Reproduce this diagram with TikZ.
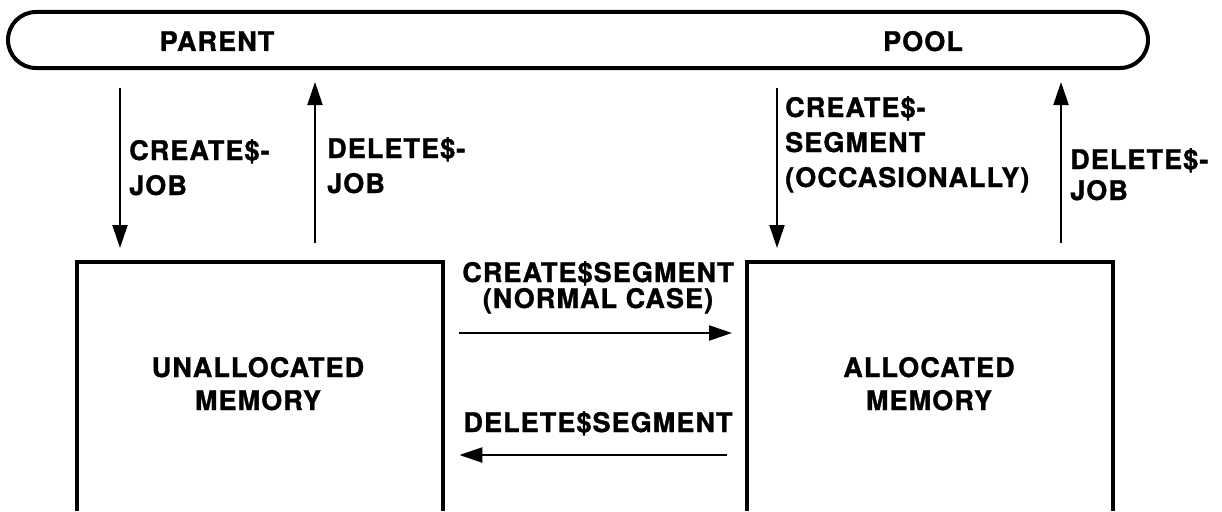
\documentclass[tikz,border=0pt]{standalone}
\usepackage{fontspec}
\setmainfont[LetterSpace=4, BoldFeatures={FakeBold=1.2}]{TeX Gyre Heros}
\usetikzlibrary{arrows.meta,shapes.misc}

\begin{document}
\begin{tikzpicture}[x=1pt,y=-1pt,
  txt/.style={font=\fontsize{27}{35}\selectfont\bfseries, inner sep=0pt},
  lbl/.style={txt, align=left, anchor=base west},
  ctr/.style={txt, align=center, anchor=base},
  wall/.style={line width=4pt, line join=miter},
  arr/.style={line width=2.2pt, -{Triangle[length=23pt,width=15pt]}},
  area/.style={minimum width=366pt, minimum height=249pt, inner sep=0pt, anchor=north west}]

\useasboundingbox (0,0) rectangle (1222,511);

% the shared pool, drawn as a long rounded bar
\node[rounded rectangle, draw, wall, minimum width=1140pt, minimum height=56pt,
      inner sep=0pt] (pool) at (578,40) {};
\node[ctr] (parent) at (217,51) {PARENT};
\node[ctr] (pooltxt) at (923,51) {POOL};

% the two memory areas, open at the bottom
\node[area] (unalloc) at (77,262) {};
\node[area] (alloc) at (747,262) {};
\draw[wall] (unalloc.south west) -- (unalloc.north west) -- (unalloc.north east) -- (unalloc.south east);
\draw[wall] (alloc.south west) -- (alloc.north west) -- (alloc.north east) -- (alloc.south east);

\node[ctr] (unalloc1) at (258,377) {UNALLOCATED};
\node[ctr] (unalloc2) at (258,410) {MEMORY};
\node[ctr] (alloc1) at (929,377) {ALLOCATED};
\node[ctr] (alloc2) at (929,410) {MEMORY};

% vertical transfers between the pool and the memory areas
\coordinate (x1) at (120,0);
\coordinate (x2) at (315,0);
\coordinate (x3) at (777,0);
\coordinate (x4) at (1061,0);

\draw[arr, shorten <=18pt, shorten >=14pt] (pool.south -| x1) -- (unalloc.north -| x1);
\draw[arr, shorten <=19pt, shorten >=12pt] (unalloc.north -| x2) -- (pool.south -| x2);
\draw[arr, shorten <=18pt, shorten >=14pt] (pool.south -| x3) -- (alloc.north -| x3);
\draw[arr, shorten <=19pt, shorten >=12pt] (alloc.north -| x4) -- (pool.south -| x4);

% labels: the anchor sits on the baseline of the last line
\node[lbl] (cj) at (129,195) {CREATE\$-\\JOB};
\node[lbl] (dj) at (327,193) {DELETE\$-\\JOB};
\node[lbl] (cs) at (785,187) {CREATE\$-\\SEGMENT\\(OCCASIONALLY)};
\node[lbl, font=\fontsize{27}{31}\selectfont\bfseries] (dj2) at (1070,200) {DELETE\$-\\JOB};

% horizontal transfers between the memory areas
\coordinate (y1) at (0,333);
\coordinate (y2) at (0,455);
\draw[arr, shorten <=16pt, shorten >=15pt] (unalloc.north east |- y1) -- (alloc.north west |- y1);
\draw[arr, shorten <=20pt, shorten >=16pt] (alloc.north west |- y2) -- (unalloc.north east |- y2);

\node[ctr] (cseg1) at (598,282) {CREATE\$SEGMENT};
\node[ctr] (cseg2) at (598,308) {(NORMAL CASE)};
\node[ctr] (dseg) at (598,432) {DELETE\$SEGMENT};

\end{tikzpicture}
\end{document}
